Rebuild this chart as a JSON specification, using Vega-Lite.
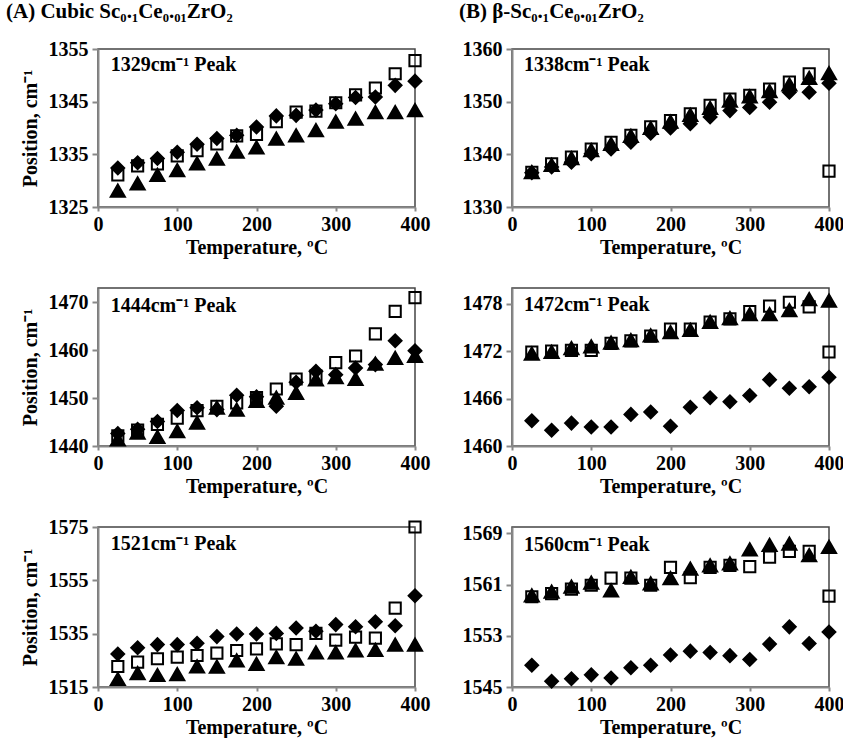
{
"$schema":"https://vega.github.io/schema/vega-lite/v6.json",
"padding":{"left":5,"top":0,"right":0,"bottom":0},
"datasets":{"d":[
{"p":"A1","s":"sq","T":25,"v":1331.1},{"p":"A1","s":"sq","T":50,"v":1332.8},{"p":"A1","s":"sq","T":75,"v":1333.2},{"p":"A1","s":"sq","T":100,"v":1334.7},{"p":"A1","s":"sq","T":125,"v":1335.7},{"p":"A1","s":"sq","T":150,"v":1337.0},{"p":"A1","s":"sq","T":175,"v":1338.5},{"p":"A1","s":"sq","T":200,"v":1338.8},{"p":"A1","s":"sq","T":225,"v":1341.2},{"p":"A1","s":"sq","T":250,"v":1343.0},{"p":"A1","s":"sq","T":275,"v":1343.2},{"p":"A1","s":"sq","T":300,"v":1344.8},{"p":"A1","s":"sq","T":325,"v":1346.3},{"p":"A1","s":"sq","T":350,"v":1347.6},{"p":"A1","s":"sq","T":375,"v":1350.3},{"p":"A1","s":"sq","T":400,"v":1352.8},
{"p":"A1","s":"di","T":25,"v":1332.4},{"p":"A1","s":"di","T":50,"v":1333.4},{"p":"A1","s":"di","T":75,"v":1334.2},{"p":"A1","s":"di","T":100,"v":1335.4},{"p":"A1","s":"di","T":125,"v":1336.9},{"p":"A1","s":"di","T":150,"v":1338.0},{"p":"A1","s":"di","T":175,"v":1338.6},{"p":"A1","s":"di","T":200,"v":1340.2},{"p":"A1","s":"di","T":225,"v":1342.3},{"p":"A1","s":"di","T":250,"v":1342.4},{"p":"A1","s":"di","T":275,"v":1343.4},{"p":"A1","s":"di","T":300,"v":1344.6},{"p":"A1","s":"di","T":325,"v":1345.8},{"p":"A1","s":"di","T":350,"v":1345.9},{"p":"A1","s":"di","T":375,"v":1348.1},{"p":"A1","s":"di","T":400,"v":1348.9},
{"p":"A1","s":"tr","T":25,"v":1328.1},{"p":"A1","s":"tr","T":50,"v":1329.5},{"p":"A1","s":"tr","T":75,"v":1331.1},{"p":"A1","s":"tr","T":100,"v":1332.0},{"p":"A1","s":"tr","T":125,"v":1333.3},{"p":"A1","s":"tr","T":150,"v":1334.2},{"p":"A1","s":"tr","T":175,"v":1335.5},{"p":"A1","s":"tr","T":200,"v":1336.3},{"p":"A1","s":"tr","T":225,"v":1338.0},{"p":"A1","s":"tr","T":250,"v":1338.6},{"p":"A1","s":"tr","T":275,"v":1339.6},{"p":"A1","s":"tr","T":300,"v":1341.2},{"p":"A1","s":"tr","T":325,"v":1341.8},{"p":"A1","s":"tr","T":350,"v":1343.0},{"p":"A1","s":"tr","T":375,"v":1343.0},{"p":"A1","s":"tr","T":400,"v":1343.4},
{"p":"B1","s":"sq","T":25,"v":1336.6},{"p":"B1","s":"sq","T":50,"v":1338.2},{"p":"B1","s":"sq","T":75,"v":1339.5},{"p":"B1","s":"sq","T":100,"v":1341.0},{"p":"B1","s":"sq","T":125,"v":1342.3},{"p":"B1","s":"sq","T":150,"v":1343.6},{"p":"B1","s":"sq","T":175,"v":1345.2},{"p":"B1","s":"sq","T":200,"v":1346.4},{"p":"B1","s":"sq","T":225,"v":1347.7},{"p":"B1","s":"sq","T":250,"v":1349.3},{"p":"B1","s":"sq","T":275,"v":1350.5},{"p":"B1","s":"sq","T":300,"v":1351.2},{"p":"B1","s":"sq","T":325,"v":1352.4},{"p":"B1","s":"sq","T":350,"v":1353.7},{"p":"B1","s":"sq","T":375,"v":1355.3},{"p":"B1","s":"sq","T":400,"v":1336.8},
{"p":"B1","s":"di","T":25,"v":1336.5},{"p":"B1","s":"di","T":50,"v":1337.6},{"p":"B1","s":"di","T":75,"v":1338.5},{"p":"B1","s":"di","T":100,"v":1340.1},{"p":"B1","s":"di","T":125,"v":1341.0},{"p":"B1","s":"di","T":150,"v":1342.3},{"p":"B1","s":"di","T":175,"v":1344.0},{"p":"B1","s":"di","T":200,"v":1345.0},{"p":"B1","s":"di","T":225,"v":1345.8},{"p":"B1","s":"di","T":250,"v":1347.1},{"p":"B1","s":"di","T":275,"v":1348.3},{"p":"B1","s":"di","T":300,"v":1348.9},{"p":"B1","s":"di","T":325,"v":1349.9},{"p":"B1","s":"di","T":350,"v":1351.8},{"p":"B1","s":"di","T":375,"v":1351.8},{"p":"B1","s":"di","T":400,"v":1353.5},
{"p":"B1","s":"tr","T":25,"v":1336.6},{"p":"B1","s":"tr","T":50,"v":1338.0},{"p":"B1","s":"tr","T":75,"v":1339.3},{"p":"B1","s":"tr","T":100,"v":1340.8},{"p":"B1","s":"tr","T":125,"v":1342.0},{"p":"B1","s":"tr","T":150,"v":1343.5},{"p":"B1","s":"tr","T":175,"v":1345.0},{"p":"B1","s":"tr","T":200,"v":1346.2},{"p":"B1","s":"tr","T":225,"v":1347.5},{"p":"B1","s":"tr","T":250,"v":1348.8},{"p":"B1","s":"tr","T":275,"v":1350.2},{"p":"B1","s":"tr","T":300,"v":1351.0},{"p":"B1","s":"tr","T":325,"v":1352.0},{"p":"B1","s":"tr","T":350,"v":1353.3},{"p":"B1","s":"tr","T":375,"v":1354.5},{"p":"B1","s":"tr","T":400,"v":1355.4},
{"p":"A2","s":"sq","T":25,"v":1442.1},{"p":"A2","s":"sq","T":50,"v":1443.3},{"p":"A2","s":"sq","T":75,"v":1444.5},{"p":"A2","s":"sq","T":100,"v":1445.8},{"p":"A2","s":"sq","T":125,"v":1447.4},{"p":"A2","s":"sq","T":150,"v":1448.3},{"p":"A2","s":"sq","T":175,"v":1449.0},{"p":"A2","s":"sq","T":200,"v":1450.1},{"p":"A2","s":"sq","T":225,"v":1451.9},{"p":"A2","s":"sq","T":250,"v":1454.0},{"p":"A2","s":"sq","T":275,"v":1454.6},{"p":"A2","s":"sq","T":300,"v":1457.4},{"p":"A2","s":"sq","T":325,"v":1458.8},{"p":"A2","s":"sq","T":350,"v":1463.4},{"p":"A2","s":"sq","T":375,"v":1468.1},{"p":"A2","s":"sq","T":400,"v":1471.0},
{"p":"A2","s":"di","T":25,"v":1442.6},{"p":"A2","s":"di","T":50,"v":1443.5},{"p":"A2","s":"di","T":75,"v":1445.1},{"p":"A2","s":"di","T":100,"v":1447.4},{"p":"A2","s":"di","T":125,"v":1448.0},{"p":"A2","s":"di","T":150,"v":1447.6},{"p":"A2","s":"di","T":175,"v":1450.6},{"p":"A2","s":"di","T":200,"v":1450.3},{"p":"A2","s":"di","T":225,"v":1448.3},{"p":"A2","s":"di","T":250,"v":1453.3},{"p":"A2","s":"di","T":275,"v":1455.6},{"p":"A2","s":"di","T":300,"v":1454.9},{"p":"A2","s":"di","T":325,"v":1456.3},{"p":"A2","s":"di","T":350,"v":1457.0},{"p":"A2","s":"di","T":375,"v":1462.0},{"p":"A2","s":"di","T":400,"v":1459.9},
{"p":"A2","s":"tr","T":25,"v":1441.4},{"p":"A2","s":"tr","T":50,"v":1442.8},{"p":"A2","s":"tr","T":75,"v":1441.9},{"p":"A2","s":"tr","T":100,"v":1443.1},{"p":"A2","s":"tr","T":125,"v":1444.9},{"p":"A2","s":"tr","T":150,"v":1448.0},{"p":"A2","s":"tr","T":175,"v":1447.6},{"p":"A2","s":"tr","T":200,"v":1449.4},{"p":"A2","s":"tr","T":225,"v":1450.1},{"p":"A2","s":"tr","T":250,"v":1451.1},{"p":"A2","s":"tr","T":275,"v":1453.9},{"p":"A2","s":"tr","T":300,"v":1454.4},{"p":"A2","s":"tr","T":325,"v":1454.0},{"p":"A2","s":"tr","T":350,"v":1457.2},{"p":"A2","s":"tr","T":375,"v":1458.4},{"p":"A2","s":"tr","T":400,"v":1458.8},
{"p":"B2","s":"sq","T":25,"v":1471.9},{"p":"B2","s":"sq","T":50,"v":1472.0},{"p":"B2","s":"sq","T":75,"v":1472.1},{"p":"B2","s":"sq","T":100,"v":1472.1},{"p":"B2","s":"sq","T":125,"v":1473.0},{"p":"B2","s":"sq","T":150,"v":1473.3},{"p":"B2","s":"sq","T":175,"v":1473.9},{"p":"B2","s":"sq","T":200,"v":1474.8},{"p":"B2","s":"sq","T":225,"v":1474.8},{"p":"B2","s":"sq","T":250,"v":1475.7},{"p":"B2","s":"sq","T":275,"v":1476.1},{"p":"B2","s":"sq","T":300,"v":1477.0},{"p":"B2","s":"sq","T":325,"v":1477.7},{"p":"B2","s":"sq","T":350,"v":1478.2},{"p":"B2","s":"sq","T":375,"v":1477.6},{"p":"B2","s":"sq","T":400,"v":1471.9},
{"p":"B2","s":"di","T":25,"v":1463.2},{"p":"B2","s":"di","T":50,"v":1462.0},{"p":"B2","s":"di","T":75,"v":1462.9},{"p":"B2","s":"di","T":100,"v":1462.4},{"p":"B2","s":"di","T":125,"v":1462.4},{"p":"B2","s":"di","T":150,"v":1464.0},{"p":"B2","s":"di","T":175,"v":1464.3},{"p":"B2","s":"di","T":200,"v":1462.5},{"p":"B2","s":"di","T":225,"v":1464.9},{"p":"B2","s":"di","T":250,"v":1466.1},{"p":"B2","s":"di","T":275,"v":1465.6},{"p":"B2","s":"di","T":300,"v":1466.4},{"p":"B2","s":"di","T":325,"v":1468.4},{"p":"B2","s":"di","T":350,"v":1467.3},{"p":"B2","s":"di","T":375,"v":1467.5},{"p":"B2","s":"di","T":400,"v":1468.7},
{"p":"B2","s":"tr","T":25,"v":1471.7},{"p":"B2","s":"tr","T":50,"v":1471.9},{"p":"B2","s":"tr","T":75,"v":1472.4},{"p":"B2","s":"tr","T":100,"v":1472.6},{"p":"B2","s":"tr","T":125,"v":1473.1},{"p":"B2","s":"tr","T":150,"v":1473.4},{"p":"B2","s":"tr","T":175,"v":1474.0},{"p":"B2","s":"tr","T":200,"v":1474.4},{"p":"B2","s":"tr","T":225,"v":1474.7},{"p":"B2","s":"tr","T":250,"v":1475.7},{"p":"B2","s":"tr","T":275,"v":1476.2},{"p":"B2","s":"tr","T":300,"v":1476.7},{"p":"B2","s":"tr","T":325,"v":1476.7},{"p":"B2","s":"tr","T":350,"v":1477.2},{"p":"B2","s":"tr","T":375,"v":1478.6},{"p":"B2","s":"tr","T":400,"v":1478.4},
{"p":"A3","s":"sq","T":25,"v":1522.7},{"p":"A3","s":"sq","T":50,"v":1524.3},{"p":"A3","s":"sq","T":75,"v":1525.6},{"p":"A3","s":"sq","T":100,"v":1526.2},{"p":"A3","s":"sq","T":125,"v":1526.8},{"p":"A3","s":"sq","T":150,"v":1527.7},{"p":"A3","s":"sq","T":175,"v":1528.7},{"p":"A3","s":"sq","T":200,"v":1529.3},{"p":"A3","s":"sq","T":225,"v":1531.2},{"p":"A3","s":"sq","T":250,"v":1530.9},{"p":"A3","s":"sq","T":275,"v":1535.1},{"p":"A3","s":"sq","T":300,"v":1532.6},{"p":"A3","s":"sq","T":325,"v":1533.7},{"p":"A3","s":"sq","T":350,"v":1533.3},{"p":"A3","s":"sq","T":375,"v":1544.6},{"p":"A3","s":"sq","T":400,"v":1575.0},
{"p":"A3","s":"di","T":25,"v":1527.4},{"p":"A3","s":"di","T":50,"v":1529.7},{"p":"A3","s":"di","T":75,"v":1530.9},{"p":"A3","s":"di","T":100,"v":1530.9},{"p":"A3","s":"di","T":125,"v":1531.4},{"p":"A3","s":"di","T":150,"v":1533.9},{"p":"A3","s":"di","T":175,"v":1534.9},{"p":"A3","s":"di","T":200,"v":1534.9},{"p":"A3","s":"di","T":225,"v":1535.1},{"p":"A3","s":"di","T":250,"v":1537.1},{"p":"A3","s":"di","T":275,"v":1535.9},{"p":"A3","s":"di","T":300,"v":1538.4},{"p":"A3","s":"di","T":325,"v":1537.6},{"p":"A3","s":"di","T":350,"v":1539.5},{"p":"A3","s":"di","T":375,"v":1538.0},{"p":"A3","s":"di","T":400,"v":1549.2},
{"p":"A3","s":"tr","T":25,"v":1518.0},{"p":"A3","s":"tr","T":50,"v":1520.2},{"p":"A3","s":"tr","T":75,"v":1519.5},{"p":"A3","s":"tr","T":100,"v":1519.8},{"p":"A3","s":"tr","T":125,"v":1522.7},{"p":"A3","s":"tr","T":150,"v":1522.6},{"p":"A3","s":"tr","T":175,"v":1525.0},{"p":"A3","s":"tr","T":200,"v":1523.7},{"p":"A3","s":"tr","T":225,"v":1526.2},{"p":"A3","s":"tr","T":250,"v":1525.6},{"p":"A3","s":"tr","T":275,"v":1528.0},{"p":"A3","s":"tr","T":300,"v":1528.0},{"p":"A3","s":"tr","T":325,"v":1528.7},{"p":"A3","s":"tr","T":350,"v":1528.9},{"p":"A3","s":"tr","T":375,"v":1530.9},{"p":"A3","s":"tr","T":400,"v":1530.9},
{"p":"B3","s":"sq","T":25,"v":1559.1},{"p":"B3","s":"sq","T":50,"v":1559.6},{"p":"B3","s":"sq","T":75,"v":1560.3},{"p":"B3","s":"sq","T":100,"v":1560.9},{"p":"B3","s":"sq","T":125,"v":1562.0},{"p":"B3","s":"sq","T":150,"v":1562.0},{"p":"B3","s":"sq","T":175,"v":1560.9},{"p":"B3","s":"sq","T":200,"v":1563.7},{"p":"B3","s":"sq","T":225,"v":1562.1},{"p":"B3","s":"sq","T":250,"v":1563.7},{"p":"B3","s":"sq","T":275,"v":1564.0},{"p":"B3","s":"sq","T":300,"v":1563.8},{"p":"B3","s":"sq","T":325,"v":1565.3},{"p":"B3","s":"sq","T":350,"v":1566.2},{"p":"B3","s":"sq","T":375,"v":1566.2},{"p":"B3","s":"sq","T":400,"v":1559.2},
{"p":"B3","s":"di","T":25,"v":1548.4},{"p":"B3","s":"di","T":50,"v":1545.9},{"p":"B3","s":"di","T":75,"v":1546.3},{"p":"B3","s":"di","T":100,"v":1546.9},{"p":"B3","s":"di","T":125,"v":1546.4},{"p":"B3","s":"di","T":150,"v":1548.0},{"p":"B3","s":"di","T":175,"v":1548.4},{"p":"B3","s":"di","T":200,"v":1550.0},{"p":"B3","s":"di","T":225,"v":1550.6},{"p":"B3","s":"di","T":250,"v":1550.4},{"p":"B3","s":"di","T":275,"v":1549.9},{"p":"B3","s":"di","T":300,"v":1549.3},{"p":"B3","s":"di","T":325,"v":1551.7},{"p":"B3","s":"di","T":350,"v":1554.4},{"p":"B3","s":"di","T":375,"v":1551.8},{"p":"B3","s":"di","T":400,"v":1553.6},
{"p":"B3","s":"tr","T":25,"v":1559.3},{"p":"B3","s":"tr","T":50,"v":1559.9},{"p":"B3","s":"tr","T":75,"v":1560.7},{"p":"B3","s":"tr","T":100,"v":1561.3},{"p":"B3","s":"tr","T":125,"v":1560.1},{"p":"B3","s":"tr","T":150,"v":1562.2},{"p":"B3","s":"tr","T":175,"v":1561.2},{"p":"B3","s":"tr","T":200,"v":1562.0},{"p":"B3","s":"tr","T":225,"v":1563.5},{"p":"B3","s":"tr","T":250,"v":1564.0},{"p":"B3","s":"tr","T":275,"v":1564.3},{"p":"B3","s":"tr","T":300,"v":1566.5},{"p":"B3","s":"tr","T":325,"v":1567.2},{"p":"B3","s":"tr","T":350,"v":1567.4},{"p":"B3","s":"tr","T":375,"v":1565.6},{"p":"B3","s":"tr","T":400,"v":1566.9}
],
"lab":[
{"p":"A1","label":"1329cm⁻¹  Peak"},{"p":"B1","label":"1338cm⁻¹  Peak"},{"p":"A2","label":"1444cm⁻¹  Peak"},{"p":"B2","label":"1472cm⁻¹  Peak"},{"p":"A3","label":"1521cm⁻¹  Peak"},{"p":"B3","label":"1560cm⁻¹  Peak"}
]},
"columns":2,
"bounds":"flush",
"spacing":{"row":81,"column":97},
"concat":[
{"width":317,"height":158,
 "title":{"text":"(A) Cubic Sc₀.₁Ce₀.₀₁ZrO₂","dx":-92},
 "layer":[
  {"data":{"name":"d"},"transform":[{"filter":"datum.p=='A1'"}],"mark":{"type":"point","filled":true,"opacity":1,"stroke":"black","strokeWidth":2},
   "encoding":{
    "x":{"field":"T","type":"quantitative","scale":{"domain":[0,400],"nice":false},"axis":{"values":[0,100,200,300,400],"title":"Temperature, ºC"}},
    "y":{"field":"v","type":"quantitative","scale":{"domain":[1325,1355],"nice":false,"zero":false},"axis":{"values":[1325,1335,1345,1355],"title":"Position, cm⁻¹"}},
    "shape":{"field":"s","type":"nominal","scale":{"domain":["sq","di","tr"],"range":["square","diamond","triangle-up"]},"legend":null},
    "fill":{"field":"s","type":"nominal","scale":{"domain":["sq","di","tr"],"range":["transparent","black","black"]},"legend":null},
    "size":{"field":"s","type":"nominal","scale":{"domain":["sq","di","tr"],"range":[125,200,200]},"legend":null}}},
  {"data":{"name":"lab"},"transform":[{"filter":"datum.p=='A1'"}],"mark":{"type":"text","align":"left","baseline":"middle","font":"Liberation Serif","fontWeight":"bold","fontSize":20,"color":"black","opacity":1},
   "encoding":{"text":{"field":"label"},"x":{"datum":16},"y":{"datum":1352}}}
 ]},
{"width":317,"height":158,
 "title":{"text":"(B) β-Sc₀.₁Ce₀.₀₁ZrO₂","dx":-53},
 "layer":[
  {"data":{"name":"d"},"transform":[{"filter":"datum.p=='B1'"}],"mark":{"type":"point","filled":true,"opacity":1,"stroke":"black","strokeWidth":2},
   "encoding":{
    "x":{"field":"T","type":"quantitative","scale":{"domain":[0,400],"nice":false},"axis":{"values":[0,100,200,300,400],"title":"Temperature, ºC"}},
    "y":{"field":"v","type":"quantitative","scale":{"domain":[1330,1360],"nice":false,"zero":false},"axis":{"values":[1330,1340,1350,1360],"title":null}},
    "shape":{"field":"s","type":"nominal","scale":{"domain":["sq","di","tr"],"range":["square","diamond","triangle-up"]},"legend":null},
    "fill":{"field":"s","type":"nominal","scale":{"domain":["sq","di","tr"],"range":["transparent","black","black"]},"legend":null},
    "size":{"field":"s","type":"nominal","scale":{"domain":["sq","di","tr"],"range":[125,200,200]},"legend":null}}},
  {"data":{"name":"lab"},"transform":[{"filter":"datum.p=='B1'"}],"mark":{"type":"text","align":"left","baseline":"middle","font":"Liberation Serif","fontWeight":"bold","fontSize":20,"color":"black","opacity":1},
   "encoding":{"text":{"field":"label"},"x":{"datum":15},"y":{"datum":1357}}}
 ]},
{"width":317,"height":158,
 "layer":[
  {"data":{"name":"d"},"transform":[{"filter":"datum.p=='A2'"}],"mark":{"type":"point","filled":true,"opacity":1,"stroke":"black","strokeWidth":2},
   "encoding":{
    "x":{"field":"T","type":"quantitative","scale":{"domain":[0,400],"nice":false},"axis":{"values":[0,100,200,300,400],"title":"Temperature, ºC"}},
    "y":{"field":"v","type":"quantitative","scale":{"domain":[1440,1473],"nice":false,"zero":false},"axis":{"values":[1440,1450,1460,1470],"title":"Position, cm⁻¹"}},
    "shape":{"field":"s","type":"nominal","scale":{"domain":["sq","di","tr"],"range":["square","diamond","triangle-up"]},"legend":null},
    "fill":{"field":"s","type":"nominal","scale":{"domain":["sq","di","tr"],"range":["transparent","black","black"]},"legend":null},
    "size":{"field":"s","type":"nominal","scale":{"domain":["sq","di","tr"],"range":[125,200,200]},"legend":null}}},
  {"data":{"name":"lab"},"transform":[{"filter":"datum.p=='A2'"}],"mark":{"type":"text","align":"left","baseline":"middle","font":"Liberation Serif","fontWeight":"bold","fontSize":20,"color":"black","opacity":1},
   "encoding":{"text":{"field":"label"},"x":{"datum":16},"y":{"datum":1469.3}}}
 ]},
{"width":317,"height":158,
 "layer":[
  {"data":{"name":"d"},"transform":[{"filter":"datum.p=='B2'"}],"mark":{"type":"point","filled":true,"opacity":1,"stroke":"black","strokeWidth":2},
   "encoding":{
    "x":{"field":"T","type":"quantitative","scale":{"domain":[0,400],"nice":false},"axis":{"values":[0,100,200,300,400],"title":"Temperature, ºC"}},
    "y":{"field":"v","type":"quantitative","scale":{"domain":[1460,1480],"nice":false,"zero":false},"axis":{"values":[1460,1466,1472,1478],"title":null}},
    "shape":{"field":"s","type":"nominal","scale":{"domain":["sq","di","tr"],"range":["square","diamond","triangle-up"]},"legend":null},
    "fill":{"field":"s","type":"nominal","scale":{"domain":["sq","di","tr"],"range":["transparent","black","black"]},"legend":null},
    "size":{"field":"s","type":"nominal","scale":{"domain":["sq","di","tr"],"range":[125,200,200]},"legend":null}}},
  {"data":{"name":"lab"},"transform":[{"filter":"datum.p=='B2'"}],"mark":{"type":"text","align":"left","baseline":"middle","font":"Liberation Serif","fontWeight":"bold","fontSize":20,"color":"black","opacity":1},
   "encoding":{"text":{"field":"label"},"x":{"datum":15},"y":{"datum":1477.9}}}
 ]},
{"width":317,"height":160,
 "layer":[
  {"data":{"name":"d"},"transform":[{"filter":"datum.p=='A3'"}],"mark":{"type":"point","filled":true,"opacity":1,"stroke":"black","strokeWidth":2},
   "encoding":{
    "x":{"field":"T","type":"quantitative","scale":{"domain":[0,400],"nice":false},"axis":{"values":[0,100,200,300,400],"title":"Temperature, ºC"}},
    "y":{"field":"v","type":"quantitative","scale":{"domain":[1515,1575],"nice":false,"zero":false},"axis":{"values":[1515,1535,1555,1575],"title":"Position, cm⁻¹"}},
    "shape":{"field":"s","type":"nominal","scale":{"domain":["sq","di","tr"],"range":["square","diamond","triangle-up"]},"legend":null},
    "fill":{"field":"s","type":"nominal","scale":{"domain":["sq","di","tr"],"range":["transparent","black","black"]},"legend":null},
    "size":{"field":"s","type":"nominal","scale":{"domain":["sq","di","tr"],"range":[125,200,200]},"legend":null}}},
  {"data":{"name":"lab"},"transform":[{"filter":"datum.p=='A3'"}],"mark":{"type":"text","align":"left","baseline":"middle","font":"Liberation Serif","fontWeight":"bold","fontSize":20,"color":"black","opacity":1},
   "encoding":{"text":{"field":"label"},"x":{"datum":16},"y":{"datum":1568.7}}}
 ]},
{"width":317,"height":160,
 "layer":[
  {"data":{"name":"d"},"transform":[{"filter":"datum.p=='B3'"}],"mark":{"type":"point","filled":true,"opacity":1,"stroke":"black","strokeWidth":2},
   "encoding":{
    "x":{"field":"T","type":"quantitative","scale":{"domain":[0,400],"nice":false},"axis":{"values":[0,100,200,300,400],"title":"Temperature, ºC"}},
    "y":{"field":"v","type":"quantitative","scale":{"domain":[1545,1570],"nice":false,"zero":false},"axis":{"values":[1545,1553,1561,1569],"title":null}},
    "shape":{"field":"s","type":"nominal","scale":{"domain":["sq","di","tr"],"range":["square","diamond","triangle-up"]},"legend":null},
    "fill":{"field":"s","type":"nominal","scale":{"domain":["sq","di","tr"],"range":["transparent","black","black"]},"legend":null},
    "size":{"field":"s","type":"nominal","scale":{"domain":["sq","di","tr"],"range":[125,200,200]},"legend":null}}},
  {"data":{"name":"lab"},"transform":[{"filter":"datum.p=='B3'"}],"mark":{"type":"text","align":"left","baseline":"middle","font":"Liberation Serif","fontWeight":"bold","fontSize":20,"color":"black","opacity":1},
   "encoding":{"text":{"field":"label"},"x":{"datum":15},"y":{"datum":1567.2}}}
 ]}
],
"resolve":{"scale":{"x":"independent","y":"independent","shape":"independent","fill":"independent","size":"independent"}},
"config":{
 "font":"Liberation Serif",
 "view":{"stroke":"#444","strokeWidth":1.5},
 "axis":{"grid":false,"format":"d","domainColor":"#888","domainWidth":2,"tickColor":"#888","tickWidth":2,"labelFlush":false,"labelOverlap":false,"labelFont":"Liberation Serif","labelFontWeight":"bold","labelFontSize":20,"labelColor":"black","titleFont":"Liberation Serif","titleFontWeight":"bold","titleFontSize":20,"titleColor":"black"},
 "axisY":{"tickSize":6,"labelPadding":4,"titlePadding":8},
 "axisX":{"tickSize":4,"labelPadding":3,"titlePadding":3},
 "title":{"anchor":"start","frame":"group","font":"Liberation Serif","fontWeight":"bold","fontSize":21,"color":"black","offset":17}
}
}
